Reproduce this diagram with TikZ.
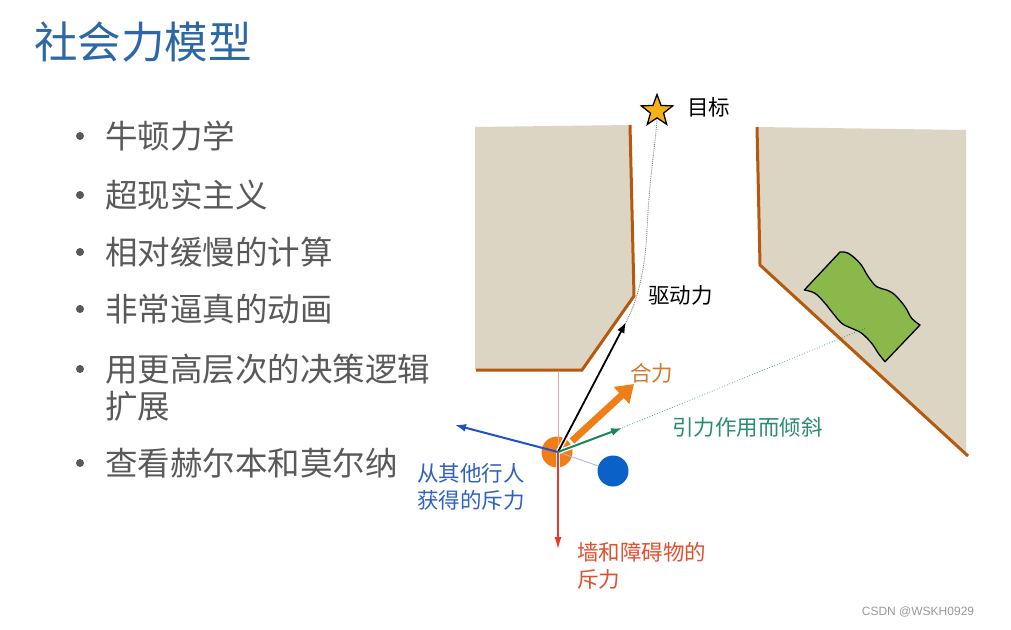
\documentclass[tikz,border=0pt]{standalone}
\usepackage{fontspec}
\newfontfamily\cjk{Noto Sans CJK SC}
\newfontfamily\wmfont{Liberation Sans}
\usetikzlibrary{arrows.meta,calc,shapes.geometric}
\definecolor{titleblue}{HTML}{2E67A5}
\definecolor{bulletgray}{HTML}{595959}
\definecolor{wallbeige}{HTML}{DDD5C4}
\definecolor{wallbrown}{HTML}{B5590F}
\definecolor{starfill}{HTML}{F6B119}
\definecolor{blobgreen}{HTML}{8AB84A}
\definecolor{pedorange}{HTML}{F07E18}
\definecolor{arrblue}{HTML}{2050D0}
\definecolor{circblue}{HTML}{0A62C9}
\definecolor{arrred}{HTML}{E8392A}
\definecolor{arrgreen}{HTML}{18875A}
\definecolor{txtgreen}{HTML}{2A8C6E}
\definecolor{txtblue}{HTML}{3060C0}
\definecolor{txtred}{HTML}{E0502F}
\definecolor{txtorange}{HTML}{D07A30}
\tikzset{
  lbl/.style={font=\cjk\fontsize{21.5}{27}\selectfont, inner sep=0, anchor=base west, align=left},
  bul/.style={font=\cjk\fontsize{32.5}{37}\selectfont, text=bulletgray, inner sep=0, anchor=base west, align=left},
  bdot/.style={circle, fill=bulletgray, minimum size=8pt, inner sep=0},
  walledge/.style={draw=wallbrown, line width=3pt, line join=miter},
  vec/.style={line width=2pt, -{Latex[length=11pt,width=8pt]}},
}
\begin{document}
\begin{tikzpicture}[x=1pt,y=-1pt]
\useasboundingbox (0,0) rectangle (1011,629);
\fill[white] (0,0) rectangle (1011,629);

% title
\node[font=\cjk\fontsize{43.5}{50}\selectfont, text=titleblue, inner sep=0, anchor=base west] (title) at (34,58) {社会力模型};

% bullets (base anchor = baseline of last line)
\node[bdot] (d1) at (80,136) {};
\node[bul] (b1) at (105,148) {牛顿力学};
\node[bdot] (d2) at (80,195) {};
\node[bul] (b2) at (105,207) {超现实主义};
\node[bdot] (d3) at (80,252) {};
\node[bul] (b3) at (105,264) {相对缓慢的计算};
\node[bdot] (d4) at (80,309) {};
\node[bul] (b4) at (105,321) {非常逼真的动画};
\node[bdot] (d5) at (80,369) {};
\node[bul] (b5) at (105,418) {用更高层次的决策逻辑\\扩展};
\node[bdot] (d6) at (80,463) {};
\node[bul] (b6) at (105,475) {查看赫尔本和莫尔纳};

% walls
\fill[wallbeige] (475,127) -- (630,125) -- (634,296) -- (582,370) -- (475,370) -- cycle;
\draw[walledge] (630,125) -- (634,296) -- (582,370) -- (476,370);
\fill[wallbeige] (757,127) -- (966,130) -- (966,452) -- (760,265) -- cycle;
\draw[walledge] (757,127) -- (760,265) -- (968,456);

% obstacle blob
\draw[fill=blobgreen, line width=1.3pt, line join=round]
  plot[smooth, tension=0.6] coordinates {(840,252) (848.3,253.3) (860,263.3) (868.3,276.7) (876.7,286.7) (886.7,290) (895,295) (905,306.7) (911.7,318.3) (920,325)}
  -- plot[smooth, tension=0.6] coordinates {(885,361.7) (878.3,353.3) (871.7,343.3) (861.7,333.3) (851.7,328.3) (841.7,323.3) (831.7,311.7) (825,303.3) (815,293.3) (804.3,290)}
  -- cycle;
\coordinate (blobc) at (866,328);

% goal
\node[star, star points=5, star point ratio=2.4, fill=starfill, draw=black, line width=1.3pt, minimum size=33pt, inner sep=0] (goal) at (657,111) {};
\node[lbl] (goallbl) at (687,115) {目标};

% pedestrians
\coordinate (o) at (558,452);
\node[circle, fill=pedorange, minimum size=31pt, inner sep=0] (ped) at (557,452) {};
\node[circle, fill=circblue, minimum size=31pt, inner sep=0] (other) at (613,471) {};

\coordinate (drv) at (626,322);
\coordinate (res0) at (572,441);
\coordinate (res) at (634,384);
\coordinate (att) at (622,428);
\coordinate (rep) at (455,425);
\coordinate (wallf) at (558,550);
\coordinate (wb) at (558,371);

% thin guide lines
\draw[color=arrred!45, line width=0.7pt] (o) -- (wb);
\draw[color=arrblue!40, line width=0.9pt] (o) -- (other);
\draw[color=arrgreen, dotted, line width=0.7pt] (att) -- (blobc);
\draw[gray, densely dotted, line width=0.9pt] (drv) .. controls (638,300) and (645,270) .. (647,230) .. controls (650,170) and (655,150) .. (goal.south);

% white halos inside the pedestrian
\begin{scope}
\clip (ped.center) circle (16pt);
\draw[white, line width=4.5pt] (o) -- (drv);
\draw[white, line width=4.5pt] (o) -- (att);
\draw[white, line width=4pt] (o) -- (wallf);
\draw[white, line width=10pt] (res0) -- (res);
\end{scope}

% force vectors
\draw[line width=1.8pt, -{Latex[length=11pt,width=8pt]}] (o) -- (drv);
\draw[pedorange, line width=7pt, -{Triangle[length=17pt,width=22pt]}] (res0) -- (res);
\draw[vec, arrgreen] (o) -- (att);
\draw[vec, arrblue] (o) -- (rep);
\draw[vec, arrred, -{Latex[length=13pt,width=7pt]}] (o) -- (wallf);

% labels
\node[lbl] (drvlbl) at (648,303) {驱动力};
\node[lbl, text=txtorange] (reslbl) at (630,381) {合力};
\node[lbl, text=txtgreen] (attlbl) at (672,435) {引力作用而倾斜};
\node[lbl, text=txtblue] (replbl) at (417,508) {从其他行人\\获得的斥力};
\node[lbl, text=txtred] (walllbl) at (577,587) {墙和障碍物的\\斥力};

% watermark
\node[font=\wmfont\fontsize{12}{14}\selectfont, text=gray!80, inner sep=0] (wm) at (918,612) {CSDN @WSKH0929};
\end{tikzpicture}
\end{document}
